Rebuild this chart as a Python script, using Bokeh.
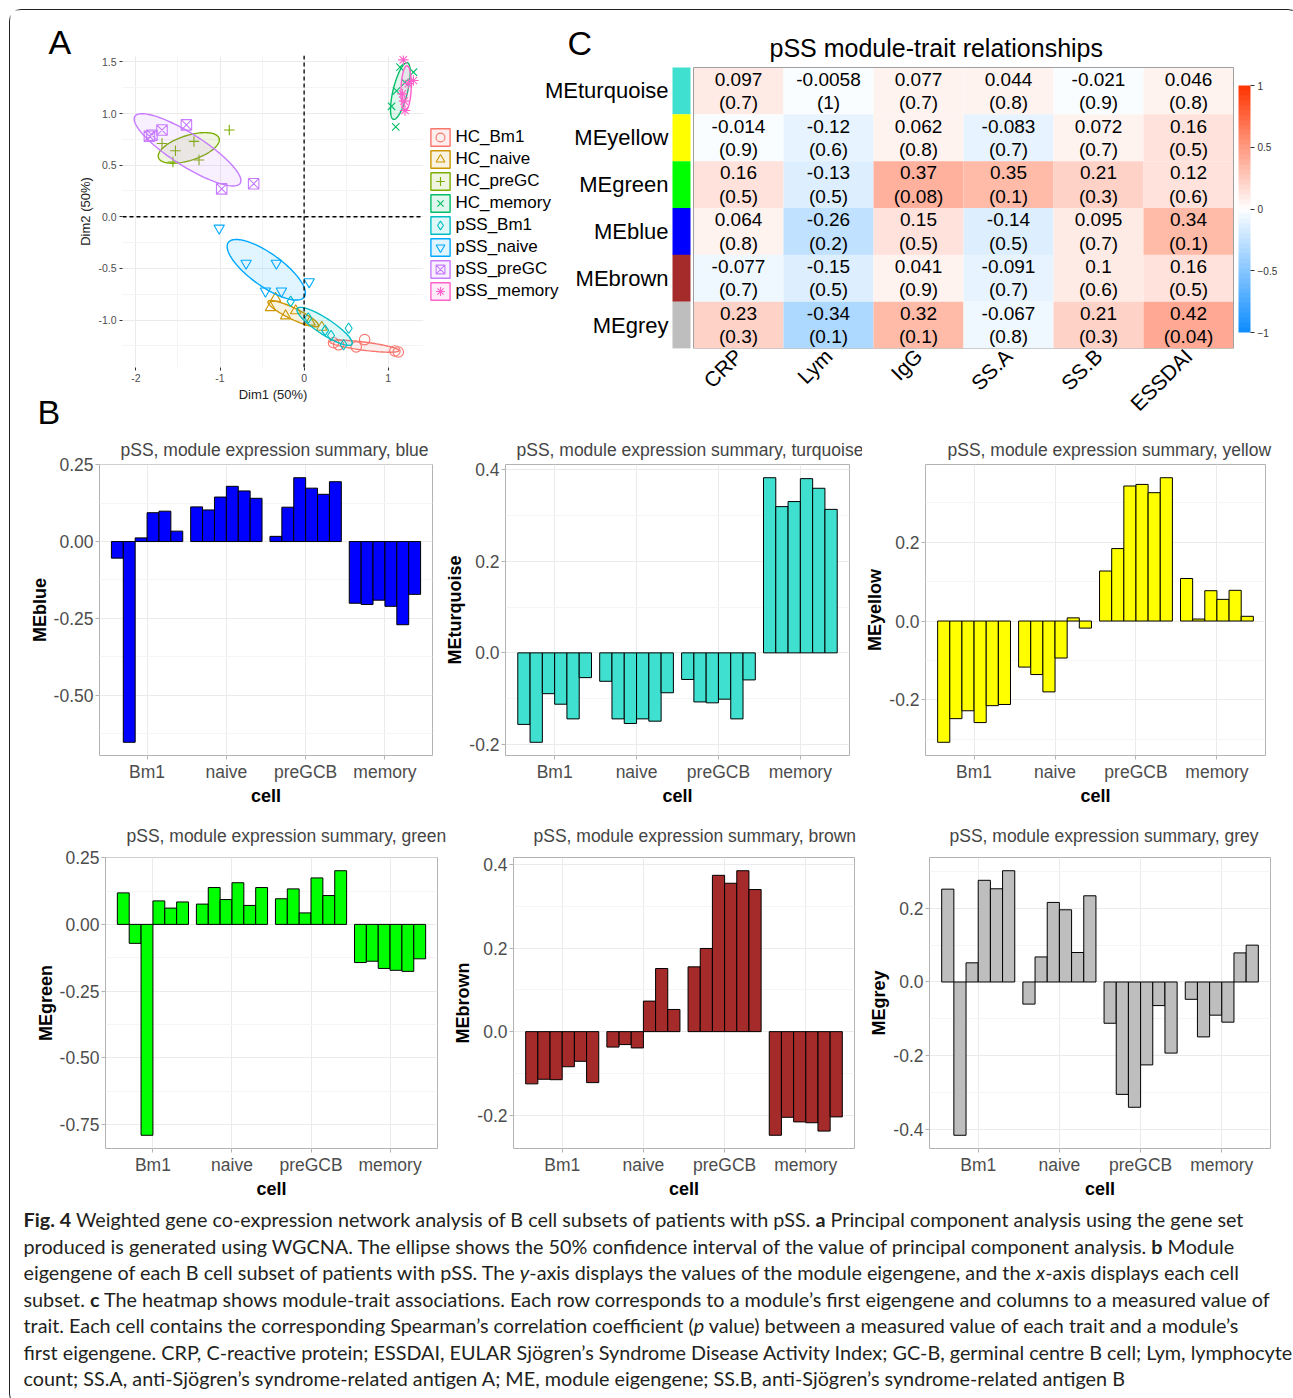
import numpy as np
from bokeh.plotting import figure
from bokeh.models import (Range1d, FixedTicker, Legend, LegendItem, ColorBar,
                          LinearColorMapper, PrintfTickFormatter, Div, Span, ColumnDataSource)
from bokeh.layouts import column, row
from bokeh.embed import file_html
from bokeh.resources import INLINE
from bokeh.core.properties import value

FONT = "Liberation Sans"

# ---------------- Panel A data (PCA individuals) ----------------
pca_groups = ["HC_Bm1", "HC_naive", "HC_preGC", "HC_memory",
              "pSS_Bm1", "pSS_naive", "pSS_preGC", "pSS_memory"]
pca_colors = ["#F8766D", "#CD9600", "#7CAE00", "#00BE67",
              "#00BFC4", "#00A9FF", "#C77CFF", "#FF61CC"]
pca_markers = ["circle", "triangle", "cross", "x",
               "diamond", "inverted_triangle", "square_x", "asterisk"]
hc_bm1_dim1 = [0.35, 0.41, 0.62, 0.72, 1.08, 1.12]
hc_bm1_dim2 = [-1.22, -1.24, -1.26, -1.19, -1.30, -1.31]
hc_naive_dim1 = [-0.34, -0.40, -0.22, -0.10, 0.07, 0.21]
hc_naive_dim2 = [-0.79, -0.88, -0.96, -0.91, -1.02, -1.07]
hc_pregc_dim1 = [-0.89, -1.31, -1.53, -1.56, -1.25, -1.69]
hc_pregc_dim2 = [0.84, 0.73, 0.64, 0.53, 0.55, 0.71]
hc_memory_dim1 = [1.09, 1.04, 1.10, 1.30, 1.14, 1.20]
hc_memory_dim2 = [0.87, 1.07, 1.22, 1.40, 1.45, 1.30]
pss_bm1_dim1 = [-0.16, 0.05, 0.25, 0.32, 0.53, 0.47]
pss_bm1_dim2 = [-0.82, -0.98, -1.10, -1.15, -1.08, -1.24]
pss_naive_dim1 = [-1.01, -0.69, -0.33, 0.06, -0.46, -0.27]
pss_naive_dim2 = [-0.11, -0.45, -0.45, -0.63, -0.72, -0.72]
pss_pregc_dim1 = [-1.84, -1.81, -1.69, -1.40, -0.98, -0.60]
pss_pregc_dim2 = [0.78, 0.79, 0.84, 0.89, 0.27, 0.32]
pss_memory_dim1 = [1.18, 1.30, 1.20, 1.17, 1.24, 1.19]
pss_memory_dim2 = [1.52, 1.32, 1.03, 1.19, 1.29, 1.12]
pca_dim1 = [hc_bm1_dim1, hc_naive_dim1, hc_pregc_dim1, hc_memory_dim1,
            pss_bm1_dim1, pss_naive_dim1, pss_pregc_dim1, pss_memory_dim1]
pca_dim2 = [hc_bm1_dim2, hc_naive_dim2, hc_pregc_dim2, hc_memory_dim2,
            pss_bm1_dim2, pss_naive_dim2, pss_pregc_dim2, pss_memory_dim2]
dim1_ticks = [-2, -1, 0, 1]
dim2_ticks = [-1.0, -0.5, 0.0, 0.5, 1.0, 1.5]

# ---------------- Panel C data (module-trait heatmap) ----------------
modules = ["MEturquoise", "MEyellow", "MEgreen", "MEblue", "MEbrown", "MEgrey"]
module_colors = ["#40E0D0", "#FFFF00", "#00FF00", "#0000FF", "#A52A2A", "#BEBEBE"]
traits = ["CRP", "Lym", "IgG", "SS.A", "SS.B", "ESSDAI"]
cor_turquoise = [0.097, -0.0058, 0.077, 0.044, -0.021, 0.046]
cor_yellow = [-0.014, -0.12, 0.062, -0.083, 0.072, 0.16]
cor_green = [0.16, -0.13, 0.37, 0.35, 0.21, 0.12]
cor_blue = [0.064, -0.26, 0.15, -0.14, 0.095, 0.34]
cor_brown = [-0.077, -0.15, 0.041, -0.091, 0.1, 0.16]
cor_grey = [0.23, -0.34, 0.32, -0.067, 0.21, 0.42]
p_turquoise = [0.7, 1, 0.7, 0.8, 0.9, 0.8]
p_yellow = [0.9, 0.6, 0.8, 0.7, 0.7, 0.5]
p_green = [0.5, 0.5, 0.08, 0.1, 0.3, 0.6]
p_blue = [0.8, 0.2, 0.5, 0.5, 0.7, 0.1]
p_brown = [0.7, 0.5, 0.9, 0.7, 0.6, 0.5]
p_grey = [0.3, 0.1, 0.1, 0.8, 0.3, 0.04]
cor_rows = [cor_turquoise, cor_yellow, cor_green, cor_blue, cor_brown, cor_grey]
p_rows = [p_turquoise, p_yellow, p_green, p_blue, p_brown, p_grey]
colorbar_ticks = [-1, -0.5, 0, 0.5, 1]

# ---------------- Panel B data (module eigengenes) ----------------
cells = ["Bm1", "naive", "preGCB", "memory"]
me_blue = [-0.054, -0.654, 0.012, 0.094, 0.099, 0.034,
           0.113, 0.103, 0.145, 0.180, 0.165, 0.141,
           0.017, 0.112, 0.208, 0.174, 0.154, 0.195,
           -0.201, -0.205, -0.191, -0.211, -0.271, -0.172]
me_turquoise = [-0.156, -0.195, -0.089, -0.112, -0.144, -0.054,
                -0.062, -0.144, -0.154, -0.144, -0.149, -0.087,
                -0.058, -0.107, -0.109, -0.101, -0.144, -0.059,
                0.382, 0.319, 0.330, 0.380, 0.359, 0.313]
me_yellow = [-0.308, -0.248, -0.228, -0.258, -0.215, -0.212,
             -0.117, -0.136, -0.180, -0.094, 0.008, -0.018,
             0.127, 0.184, 0.343, 0.347, 0.326, 0.364,
             0.108, 0.005, 0.077, 0.055, 0.078, 0.012]
me_green = [0.118, -0.071, -0.790, 0.088, 0.061, 0.084,
            0.076, 0.138, 0.093, 0.156, 0.071, 0.138,
            0.096, 0.133, 0.043, 0.174, 0.108, 0.201,
            -0.143, -0.138, -0.165, -0.172, -0.176, -0.129]
me_brown = [-0.125, -0.114, -0.115, -0.084, -0.071, -0.122,
            -0.037, -0.031, -0.039, 0.073, 0.151, 0.053,
            0.155, 0.199, 0.374, 0.355, 0.385, 0.340,
            -0.248, -0.205, -0.216, -0.218, -0.238, -0.204]
me_grey = [0.252, -0.416, 0.052, 0.276, 0.253, 0.302,
           -0.060, 0.068, 0.216, 0.196, 0.080, 0.234,
           -0.112, -0.305, -0.340, -0.225, -0.064, -0.193,
           -0.047, -0.149, -0.090, -0.109, 0.079, 0.100]

caption_lines = [
    "<b>Fig. 4</b> Weighted gene co-expression network analysis of B cell subsets of patients with pSS. <b>a</b> Principal component analysis using the gene set",
    "produced is generated using WGCNA. The ellipse shows the 50% confidence interval of the value of principal component analysis. <b>b</b> Module",
    "eigengene of each B cell subset of patients with pSS. The <i>y</i>-axis displays the values of the module eigengene, and the <i>x</i>-axis displays each cell",
    "subset. <b>c</b> The heatmap shows module-trait associations. Each row corresponds to a module\u2019s first eigengene and columns to a measured value of",
    "trait. Each cell contains the corresponding Spearman\u2019s correlation coefficient (<i>p</i> value) between a measured value of each trait and a module\u2019s",
    "first eigengene. CRP, C-reactive protein; ESSDAI, EULAR Sj\u00f6gren\u2019s Syndrome Disease Activity Index; GC-B, germinal centre B cell; Lym, lymphocyte",
    "count; SS.A, anti-Sj\u00f6gren\u2019s syndrome-related antigen A; ME, module eigengene; SS.B, anti-Sj\u00f6gren\u2019s syndrome-related antigen B",
]

ROW1_H = 422


def blank(width, height, xr, yr):
    """A figure whose drawing area is its whole canvas (no axes, no grid)."""
    f = figure(width=width, height=height, x_range=xr, y_range=yr, output_backend="svg",
               toolbar_location=None, x_axis_location=None, y_axis_location=None,
               min_border_left=0, min_border_right=0, min_border_top=0, min_border_bottom=0)
    f.outline_line_color = None
    f.xgrid.visible = False
    f.ygrid.visible = False
    return f


def ellipse_outline(xs, ys, level=0.5, n=120):
    pts = np.column_stack([xs, ys])
    m = pts.mean(axis=0)
    cov = np.cov(pts.T)
    dfd = len(xs) - 1
    q = (dfd / 2.0) * ((1 - level) ** (-2.0 / dfd) - 1)  # F(2, dfd) quantile
    r = np.sqrt(2 * q)
    t = np.linspace(0, 2 * np.pi, n)
    circ = np.column_stack([np.cos(t), np.sin(t)])
    L = np.linalg.cholesky(cov)
    e = m + r * circ @ L.T
    return e[:, 0], e[:, 1]


# ================= panel letters A / B (left strip) =================
LET_W = 65
pL = blank(LET_W, ROW1_H, Range1d(0, LET_W), Range1d(ROW1_H, 0))
pL.text(x=[38, 27], y=[31.5, 401], text=["A", "B"], text_font=value(FONT),
        text_font_size="34px", text_align="left", text_baseline="middle", text_color="black")

# ================= Panel A (PCA) =================
pA = figure(width=351, height=ROW1_H, x_range=Range1d(-2.16, 1.42), y_range=Range1d(-1.46, 1.562),
            output_backend="svg", toolbar_location=None,
            min_border_left=43, min_border_right=3, min_border_top=45, min_border_bottom=65)
pA.outline_line_color = None
xt = FixedTicker(ticks=dim1_ticks, minor_ticks=[-1.5, -0.5, 0.5])
yt = FixedTicker(ticks=dim2_ticks, minor_ticks=[-1.25, -0.75, -0.25, 0.25, 0.75, 1.25])
pA.xaxis.ticker = xt
pA.xgrid.ticker = xt
pA.yaxis.ticker = yt
pA.ygrid.ticker = yt
pA.xaxis.formatter = PrintfTickFormatter(format="%d")
pA.yaxis.formatter = PrintfTickFormatter(format="%.1f")
for g in (pA.xgrid[0], pA.ygrid[0]):
    g.grid_line_color = "#EBEBEB"
    g.minor_grid_line_color = "#F4F4F4"
for ax in (pA.xaxis[0], pA.yaxis[0]):
    ax.axis_line_color = None
    ax.major_tick_line_color = "#333333"
    ax.major_tick_out = 3
    ax.major_tick_in = 0
    ax.minor_tick_line_color = None
    ax.major_label_text_font = FONT
    ax.major_label_text_font_size = "10.5px"
    ax.major_label_text_color = "#4D4D4D"
    ax.major_label_standoff = 2
    ax.axis_label_text_font = FONT
    ax.axis_label_text_font_size = "13px"
    ax.axis_label_text_font_style = "normal"
    ax.axis_label_text_color = "#222222"
    ax.axis_label_standoff = 2
pA.xaxis.axis_label = "Dim1 (50%)"
pA.yaxis.axis_label = "Dim2 (50%)"

# ================= Panel C (legend of A + heatmap) =================
def bwr(n):
    blue_end = np.array([0.05, 0.55, 1.0])
    red_end = np.array([1.0, 0.2, 0.0])
    white = np.array([1.0, 1.0, 1.0])
    cols = []
    for i in range(n):
        v = -1 + (i + 0.5) * 2.0 / n
        rgb = white + ((blue_end - white) * (-v) if v < 0 else (red_end - white) * v)
        cols.append("#%02x%02x%02x" % tuple(int(round(255 * k)) for k in rgb))
    return cols

mapper = LinearColorMapper(palette=bwr(50), low=-1, high=1)
nrow, ncol = len(modules), len(traits)
C_W = 863
CELL_W, ROW_H = 90.0, 281.0 / nrow
HM_LEFT, HM_RIGHT, HM_TOP = 267.0, 56.0, 57.0
STRIP_W, STRIP_GAP = 18.0 / CELL_W, 3.0 / CELL_W

pC = figure(width=C_W, height=ROW1_H, x_range=Range1d(-HM_LEFT / CELL_W, ncol + HM_RIGHT / CELL_W),
            y_range=Range1d(nrow, -HM_TOP / ROW_H), output_backend="svg", toolbar_location=None,
            y_axis_location=None,
            min_border_left=0, min_border_right=0, min_border_top=0,
            min_border_bottom=ROW1_H - int(HM_TOP + 281))
pC.outline_line_color = None
pC.xgrid.visible = False
pC.ygrid.visible = False
pC.extra_x_ranges = {"hidden": Range1d(10, 11)}
pC.extra_y_ranges = {"hidden": Range1d(10, 11)}

# PCA groups: drawn in A; legend proxies (out of view) in the wide right canvas
items = []
for g, c, m, xs, ys in zip(pca_groups, pca_colors, pca_markers, pca_dim1, pca_dim2):
    ex, ey = ellipse_outline(xs, ys)
    pA.patch(ex, ey, fill_color=c, fill_alpha=0.12, line_color=c, line_width=1.4)
    pA.scatter(xs, ys, marker=m, size=10.5, fill_color=None, line_color=c, line_width=1.1)
    lr = pC.patch(ex, ey, fill_color=c, fill_alpha=0.12, line_color=c, line_width=1.4,
                  x_range_name="hidden", y_range_name="hidden")
    ls = pC.scatter(xs, ys, marker=m, size=10, fill_color=None, line_color=c, line_width=1.1,
                    x_range_name="hidden", y_range_name="hidden")
    items.append(LegendItem(label=g, renderers=[lr, ls]))
pA.add_layout(Span(location=0, dimension="height", line_color="black", line_dash="4 3", line_width=1.3))
pA.add_layout(Span(location=0, dimension="width", line_color="black", line_dash="4 3", line_width=1.3))
leg = Legend(items=items, location=(2, 46), glyph_width=24, glyph_height=22, spacing=0,
             padding=2, margin=0, border_line_color=None, background_fill_alpha=0,
             label_standoff=4, label_text_font=FONT, label_text_font_size="17px",
             label_text_color="black")
pC.add_layout(leg)

hx, hy, hv, hs, hp = [], [], [], [], []
for i, (cr, pr_) in enumerate(zip(cor_rows, p_rows)):
    for j, (cv, pv) in enumerate(zip(cr, pr_)):
        hx.append(j + 0.5)
        hy.append(i + 0.5)
        hv.append(cv)
        hs.append("{:.2g}".format(cv))
        hp.append("({:.1g})".format(pv))
hsrc = ColumnDataSource(dict(x=hx, y=hy, v=hv, s=hs, p=hp,
                             yt=[y - 0.25 for y in hy], yb=[y + 0.25 for y in hy]))
pC.rect(x="x", y="y", width=1, height=1, fill_color={"field": "v", "transform": mapper},
        line_color=None, dilate=True, source=hsrc)
pC.rect(x=ncol / 2, y=nrow / 2, width=ncol, height=nrow, fill_color=None,
        line_color="#A0A0A0", line_width=1)
row_y = [i + 0.5 for i in range(nrow)]
pC.rect(x=[-STRIP_GAP - STRIP_W / 2] * nrow, y=row_y,
        width=STRIP_W, height=1, fill_color=module_colors, line_color=None, dilate=True)
pC.text(x="x", y="yt", text="s", source=hsrc, text_font=value(FONT), text_font_size="19px",
        text_align="center", text_baseline="middle", text_color="black")
pC.text(x="x", y="yb", text="p", source=hsrc, text_font=value(FONT), text_font_size="19px",
        text_align="center", text_baseline="middle", text_color="black")
pC.text(x=[-STRIP_W - STRIP_GAP - 4.0 / CELL_W] * nrow, y=row_y, text=modules,
        text_font=value(FONT), text_font_size="22px", text_align="right",
        text_baseline="middle", text_color="black")
pC.text(x=[(769 - 693) / CELL_W], y=[-(67 - 47) / ROW_H], text=["pSS module-trait relationships"],
        text_font=value(FONT), text_font_size="25px", text_align="left",
        text_baseline="middle", text_color="black")
pC.text(x=[-(693 - 567) / CELL_W], y=[-(67 - 42) / ROW_H], text=["C"],
        text_font=value(FONT), text_font_size="34px", text_align="left",
        text_baseline="middle", text_color="black")

pC.xaxis.ticker = FixedTicker(ticks=[j + 0.5 for j in range(ncol)])
pC.xaxis.major_label_overrides = {j + 0.5: t for j, t in enumerate(traits)}
pC.xaxis.major_label_orientation = np.pi / 4
ax = pC.xaxis[0]
ax.axis_line_color = None
ax.major_tick_line_color = None
ax.major_tick_out = 0
ax.major_tick_in = 0
ax.minor_tick_line_color = None
ax.major_label_text_font = FONT
ax.major_label_text_color = "black"
ax.major_label_text_font_size = "21px"
ax.major_label_standoff = 4

cb = ColorBar(color_mapper=mapper, ticker=FixedTicker(ticks=colorbar_ticks), width=12, height=247,
              location=(C_W - 51, 16), padding=0, label_standoff=3,
              major_label_text_font=FONT, major_label_text_font_size="10px",
              major_label_text_color="#333333",
              major_tick_line_color="#333333", major_tick_in=0, major_tick_out=4,
              bar_line_color=None, border_line_color=None, background_fill_alpha=0)
pC.add_layout(cb)

# ================= Panel B bar charts =================
BAR_W = 0.15


def bar_panel(vals, fill, ylabel, title, yticks, yminor, fmt, w, h, left, right, top, bottom, toff, tstand):
    ng = len(cells)
    nper = len(vals) // ng
    xs = [g + 1 + (j - (nper - 1) / 2) * BAR_W for g in range(ng) for j in range(nper)]
    lo, hi = min(min(vals), 0), max(max(vals), 0)
    pad = 0.05 * (hi - lo)
    p = figure(width=w, height=h, x_range=Range1d(0.4, ng + 0.6), y_range=Range1d(lo - pad, hi + pad),
               output_backend="svg", toolbar_location=None, title=title,
               min_border_left=left, min_border_right=right, min_border_top=top, min_border_bottom=bottom)
    p.title.text_font = FONT
    p.title.text_font_size = "17.5px"
    p.title.text_font_style = "normal"
    p.title.align = "left"
    p.title.offset = toff
    p.title.standoff = tstand
    p.outline_line_color = "#B3B3B3"
    p.outline_line_width = 1
    xtk = FixedTicker(ticks=list(range(1, ng + 1)))
    ytk = FixedTicker(ticks=yticks, minor_ticks=yminor)
    p.xaxis.ticker = xtk
    p.xgrid.ticker = xtk
    p.yaxis.ticker = ytk
    p.ygrid.ticker = ytk
    p.xaxis.major_label_overrides = {i + 1: c for i, c in enumerate(cells)}
    p.yaxis.formatter = PrintfTickFormatter(format=fmt)
    p.xgrid.grid_line_color = "#EBEBEB"
    p.ygrid.grid_line_color = "#EBEBEB"
    p.ygrid.minor_grid_line_color = "#F5F5F5"
    for ax in (p.xaxis[0], p.yaxis[0]):
        ax.axis_line_color = None
        ax.major_tick_line_color = "#B3B3B3"
        ax.major_tick_out = 4
        ax.major_tick_in = 0
        ax.minor_tick_line_color = None
        ax.major_label_text_font = FONT
        ax.major_label_text_font_size = "17.5px"
        ax.major_label_text_color = "#4D4D4D"
        ax.major_label_standoff = 2
        ax.axis_label_text_font = FONT
        ax.axis_label_text_font_size = "18px"
        ax.axis_label_text_font_style = "bold"
        ax.axis_label_text_color = "black"
        ax.axis_label_standoff = 1
    p.xaxis.axis_label = "cell"
    p.yaxis.axis_label = ylabel
    p.vbar(x=xs, top=vals, bottom=0, width=BAR_W, fill_color=fill, line_color="black", line_width=1)
    return p


t = "pSS, module expression summary, "
H2, H3 = 376, 393
b1 = bar_panel(me_blue, "#0000FF", "MEblue", t + "blue", [-0.5, -0.25, 0, 0.25],
               [-0.625, -0.375, -0.125, 0.125], "%.2f", 432, H2, 89, 10, 32, 48, 21, 10)
b2 = bar_panel(me_turquoise, "#40E0D0", "MEturquoise", t + "turquoise", [-0.2, 0, 0.2, 0.4],
               [-0.1, 0.1, 0.3], "%.1f", 420, H2, 63, 13, 32, 48, 11, 10)
b3 = bar_panel(me_yellow, "#FFFF00", "MEyellow", t + "yellow", [-0.2, 0, 0.2],
               [-0.3, -0.1, 0.1, 0.3], "%.1f", 427, H2, 59, 24, 32, 48, 22, 10)
b4 = bar_panel(me_green, "#00FF00", "MEgreen", t + "green", [-0.75, -0.5, -0.25, 0, 0.25],
               [-0.625, -0.375, -0.125, 0.125], "%.2f", 440, H3, 95, 13, 49, 48, 21, 23)
b5 = bar_panel(me_brown, "#A52A2A", "MEbrown", t + "brown", [-0.2, 0, 0.2, 0.4],
               [-0.1, 0.1, 0.3], "%.1f", 416, H3, 61, 12, 49, 48, 20, 23)
b6 = bar_panel(me_grey, "#BEBEBE", "MEgrey", t + "grey", [-0.4, -0.2, 0, 0.2],
               [-0.3, -0.1, 0.1, 0.3], "%.1f", 423, H3, 62, 19, 49, 48, 20, 23)

cap = Div(text=("<div style=\"font-family:Lato, 'Open Sans', sans-serif; font-size:19.8px; "
                "line-height:26.5px; color:#231F20; white-space:nowrap; padding:0 0 0 9px;\">"
                + "<br>".join(caption_lines) + "</div>"), width=1279, height=194)

root = column(row(column(pL), column(pA), column(pC)),
              row(b1, b2, b3), row(b4, b5, b6), cap,
              styles={"margin": "9px 0 0 8.5px", "border": "1.5px solid #222222",
                      "border-radius": "12px"})

open("out.html", "w", encoding="utf-8").write(file_html(root, INLINE, title="Fig. 4"))
